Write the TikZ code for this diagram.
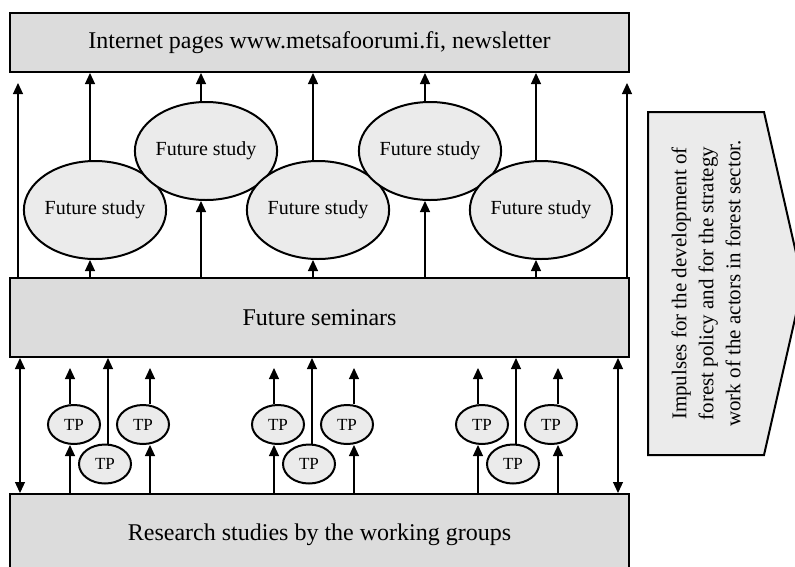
\documentclass[tikz,border=0pt]{standalone}
\usepackage{fontspec}
\setmainfont{Liberation Serif}
\usetikzlibrary{shapes.geometric,arrows.meta}
\definecolor{boxgray}{RGB}{220, 220, 220}
\definecolor{ovalgray}{RGB}{235, 235, 235}
\tikzset{
    flow/.style={-{Triangle[width=10pt,length=11pt]}, line width=1.2pt},
    both/.style={{Triangle[width=10pt,length=11pt]}-{Triangle[width=10pt,length=11pt]}, line width=1.2pt},
    bar/.style={draw, fill=boxgray, line width=2pt, minimum width=619pt, inner sep=0pt, font=\fontsize{24}{28}\selectfont},
    study/.style={ellipse, draw, fill=ovalgray, line width=2pt, minimum width=136pt, minimum height=98pt, inner sep=0pt, font=\fontsize{20}{24}\selectfont},
    tp/.style={ellipse, draw, fill=ovalgray, line width=2pt, minimum width=52pt, minimum height=39pt, inner sep=0pt, font=\fontsize{17}{19}\selectfont}
}

\begin{document}
\begin{tikzpicture}[x=1pt,y=-1pt]
            \useasboundingbox                                   (0, 0) rectangle (795, 566);
            \node[bar, minimum height=59pt] (web)      at (319.5, 42.5) {Internet pages www.metsafoorumi.fi, newsletter};
            \node[bar, minimum height=79pt] (seminars) at (319.5,317.5) {Future seminars};
            \node[bar, minimum height=81pt] (research) at (319.5,534.5) {Research studies by the working groups};

            \node[study] (fs1) at ( 95.0,210.0) {Future study};
            \node[study] (fs2) at (206.0,151.0) {Future study};
            \node[study] (fs3) at (318.0,210.0) {Future study};
            \node[study] (fs4) at (430.0,151.0) {Future study};
            \node[study] (fs5) at (541.0,210.0) {Future study};
            \foreach \i in {1,...,5} {
                \draw[flow] ([xshift=-5pt]fs\i.north) -- ([xshift=-5pt]fs\i.north |- web.south);
                \draw[flow] ([xshift=-5pt]fs\i.south |- seminars.north) -- ([xshift=-5pt]fs\i.south);
            }

            \coordinate (upleft)   at ( 18, 83);
            \coordinate (upright)  at (627, 83);
            \coordinate (lowleft)  at ( 20,  0);
            \coordinate (lowright) at (618,  0);
            \coordinate (tiprow)   at (  0,368);
            \draw[flow] (upleft  |- seminars.north) -- (upleft);
            \draw[flow] (upright |- seminars.north) -- (upright);
            \draw[both] (lowleft  |- seminars.south) -- (lowleft  |- research.north);
            \draw[both] (lowright |- seminars.south) -- (lowright |- research.north);

            \foreach \g/\dx in {a/0,b/204,c/408} {
                \node[tp] (tp\g1) at ({ 74+\dx},424.5) {TP};
                \node[tp] (tp\g2) at ({105+\dx},464.0) {TP};
                \node[tp] (tp\g3) at ({143+\dx},424.5) {TP};
                \draw[flow] ([xshift=-4pt]tp\g1.south |- research.north) -- ([xshift=-4pt]tp\g1.south);
                \draw[flow] ([xshift=-4pt]tp\g1.north) -- ([xshift=-4pt]tp\g1.north |- tiprow);
                \draw[flow] ([xshift= 3pt]tp\g2.north) -- ([xshift= 3pt]tp\g2.north |- seminars.south);
                \draw[flow] ([xshift= 7pt]tp\g3.south |- research.north) -- ([xshift= 7pt]tp\g3.south);
                \draw[flow] ([xshift= 7pt]tp\g3.north) -- ([xshift= 7pt]tp\g3.north |- tiprow);
            }

            \filldraw[fill=ovalgray, line width=2pt] (648,112) -- (764,112) -- (803,283.5) -- (764,455) -- (648,455) -- cycle;
            \node[rotate=90, align=center, font=\fontsize{21}{27}\selectfont] (impulses) at (706,283.5)
                {Impulses for the development of\\forest policy and for the strategy\\work of the actors in forest sector.};
        \end{tikzpicture}
\end{document}
